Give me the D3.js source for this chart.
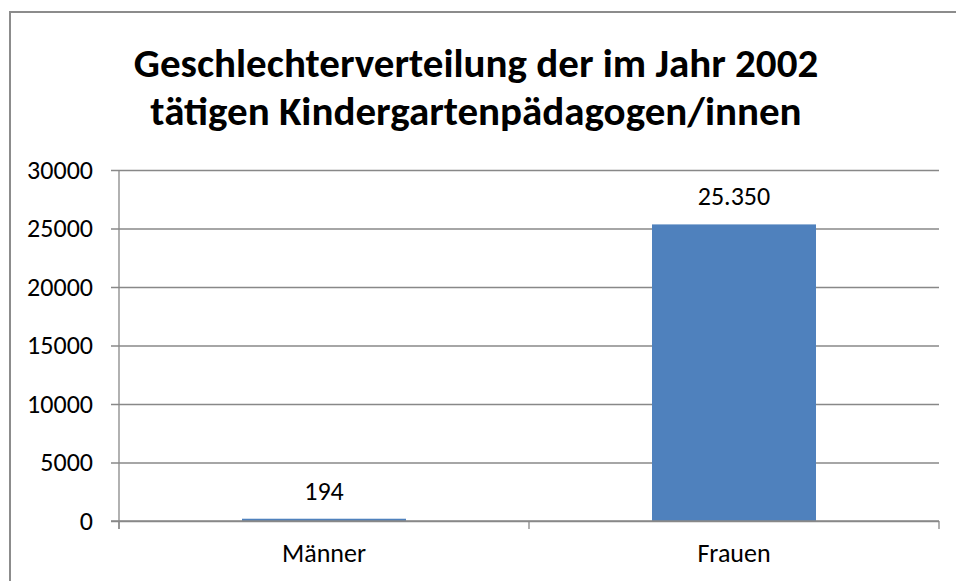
<!DOCTYPE html>
<html>
<head>
<meta charset="utf-8">
<script src="https://cdn.jsdelivr.net/npm/d3@7"></script>
<style>
  html, body { margin: 0; padding: 0; background: #fff; }
  svg { display: block; }
  text { font-family: Carlito, Calibri, "Open Sans", sans-serif; fill: #000; }
</style>
</head>
<body>
<div id="chart"></div>
<script>
// Daten
const kategorien = ['Männer', 'Frauen'];
const werte = [194, 25350];
const yTicks = [0, 5000, 10000, 15000, 20000, 25000, 30000];
const titelZeilen = ['Geschlechterverteilung der im Jahr 2002', 'tätigen Kindergartenpädagogen/innen'];

// Größe
const W = 956, H = 581;
const margin = { top: 170, right: 17, bottom: 60, left: 119 };
const plotW = W - margin.left - margin.right;
const plotH = H - margin.top - margin.bottom;
const schrift = 'Carlito, Calibri, "Open Sans", sans-serif';

const de = d3.formatLocale({ decimal: ',', thousands: '.', grouping: [3], currency: ['', ' €'] });
const fmtLabel = de.format(',d');

const svg = d3.select('#chart').append('svg')
  .attr('width', W)
  .attr('height', H);

// Rahmen (Diagrammbereich, rechts/unten abgeschnitten)
svg.append('rect')
  .attr('x', 10).attr('y', 12)
  .attr('width', W + 20).attr('height', H + 20)
  .attr('fill', 'none')
  .attr('stroke', '#8c8c8c')
  .attr('stroke-width', 2);

// Titel
svg.append('text')
  .attr('text-anchor', 'middle')
  .style('font-weight', 'bold')
  .style('font-size', '41px')
  .selectAll('tspan')
  .data(titelZeilen)
  .enter().append('tspan')
  .attr('x', 476)
  .attr('y', (d, i) => 77 + i * 48)
  .text(d => d);

const g = svg.append('g')
  .attr('transform', 'translate(' + margin.left + ',' + margin.top + ')');

const y = d3.scaleLinear().domain([0, 30000]).range([plotH, 0]);
const x = d3.scaleBand().domain(kategorien).range([0, plotW]).padding(0);

// Gitterlinien + y-Achse
const yAxis = d3.axisLeft(y)
  .tickValues(yTicks)
  .tickSize(-plotW - 8)
  .tickFormat(d3.format('d'));

const ya = g.append('g')
  .attr('transform', 'translate(-8,0)')
  .call(yAxis);
ya.select('.domain').remove();
ya.selectAll('.tick line')
  .attr('x1', 0)
  .attr('x2', plotW + 8)
  .attr('stroke', '#888')
  .attr('stroke-width', 1.3);
ya.selectAll('.tick text')
  .attr('x', -18)
  .style('font-size', '26px')
  .style('font-family', schrift)
  .attr('fill', '#000');

// y-Achsenlinie
g.append('line')
  .attr('x1', 0).attr('x2', 0)
  .attr('y1', 0).attr('y2', plotH + 8)
  .attr('stroke', '#888').attr('stroke-width', 1.3);

// Balken
const barW = x.bandwidth() * 0.4;
g.selectAll('rect.bar')
  .data(werte)
  .enter().append('rect')
  .attr('class', 'bar')
  .attr('x', (d, i) => x(kategorien[i]) + (x.bandwidth() - barW) / 2)
  .attr('y', d => y(d))
  .attr('width', barW)
  .attr('height', d => y(0) - y(d))
  .attr('fill', '#4f81bd');

// x-Achse
const xAxis = d3.axisBottom(x).tickSize(0).tickPadding(23);
const xa = g.append('g')
  .attr('transform', 'translate(0,' + plotH + ')')
  .call(xAxis);
xa.select('.domain').remove();
xa.selectAll('.tick text')
  .style('font-size', '26px')
  .style('font-family', schrift)
  .attr('fill', '#000');

g.append('line')
  .attr('x1', -8).attr('x2', plotW)
  .attr('y1', plotH).attr('y2', plotH)
  .attr('stroke', '#888').attr('stroke-width', 1.3);

// Teilstriche an den Kategoriegrenzen
const grenzen = kategorien.map(k => x(k)).concat([plotW]);
g.selectAll('line.xtick')
  .data(grenzen)
  .enter().append('line')
  .attr('class', 'xtick')
  .attr('x1', d => d).attr('x2', d => d)
  .attr('y1', plotH).attr('y2', plotH + 8)
  .attr('stroke', '#888').attr('stroke-width', 1.3);

// Datenbeschriftungen
g.selectAll('text.wert')
  .data(werte)
  .enter().append('text')
  .attr('class', 'wert')
  .attr('x', (d, i) => x(kategorien[i]) + x.bandwidth() / 2)
  .attr('y', d => y(d) - 19)
  .attr('text-anchor', 'middle')
  .style('font-size', '26px')
  .text(d => fmtLabel(d));
</script>
</body>
</html>
